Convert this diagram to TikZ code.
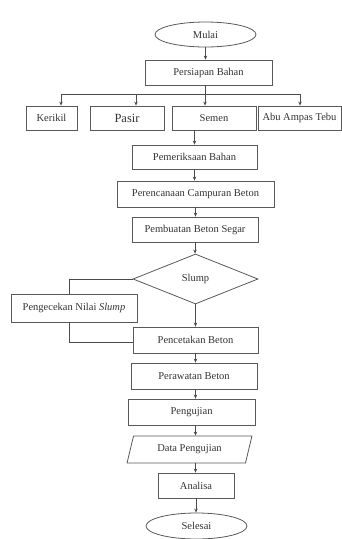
\documentclass[tikz,border=0pt]{standalone}
\usepackage{fontspec}
\setmainfont{Liberation Serif}
\usetikzlibrary{shapes.geometric,arrows.meta}
\tikzset{
  box/.style={draw=black!65, line width=0.8pt, rectangle, inner sep=0pt, text=black!80, font=\fontsize{10.5}{12}\selectfont},
  oval/.style={draw=black!65, line width=0.8pt, ellipse, inner sep=0pt, text=black!80, font=\fontsize{10.5}{12}\selectfont},
  dia/.style={draw=black!65, line width=0.8pt, diamond, aspect=2.5, inner sep=0pt, text=black!80, font=\fontsize{10.5}{12}\selectfont},
  para/.style={draw=black!65, line width=0.8pt, trapezium, trapezium left angle=68, trapezium right angle=112, trapezium stretches=true, inner sep=0pt, text=black!80, font=\fontsize{10.5}{12}\selectfont},
  conn/.style={draw=black!70, line width=0.7pt},
  arr/.style={conn, -{Stealth[length=4pt,width=3.5pt]}}
}
\begin{document}
\begin{tikzpicture}[x=1pt,y=-1pt]
\useasboundingbox (0,0) rectangle (342,539);
\node[oval, minimum width=101pt, minimum height=25pt] (mulai) at (205.5,34.5) {Mulai};
\node[box, minimum width=127pt, minimum height=25pt] (persiapan) at (208.5,72.5) {Persiapan Bahan};
\node[box, minimum width=51pt, minimum height=24pt] (kerikil) at (51.5,118) {Kerikil};
\node[box, minimum width=74pt, minimum height=24pt, font=\fontsize{12.5}{14}\selectfont] (pasir) at (127,118) {Pasir};
\node[box, minimum width=84pt, minimum height=24pt] (semen) at (214,118) {Semen};
\node[box, minimum width=83pt, minimum height=24pt] (abu) at (299.5,118) {Abu Ampas Tebu};
\node[box, minimum width=125pt, minimum height=24pt] (periksa) at (194.5,157) {Pemeriksaan Bahan};
\node[box, minimum width=157pt, minimum height=26pt] (rencana) at (195.5,194) {Perencanaan Campuran Beton};
\node[box, minimum width=126pt, minimum height=25pt] (buat) at (195,229.5) {Pembuatan Beton Segar};
\node[dia, minimum width=125pt, minimum height=50pt] (slump) at (195.5,279) {Slump};
\node[box, minimum width=126pt, minimum height=28pt] (cek) at (74,308) {Pengecekan Nilai \textit{Slump}};
\node[box, minimum width=125pt, minimum height=26pt] (cetak) at (195.5,340) {Pencetakan Beton};
\node[box, minimum width=126pt, minimum height=26pt] (rawat) at (194,376) {Perawatan Beton};
\node[box, minimum width=127pt, minimum height=26pt] (uji) at (191.5,412) {Pengujian};
\node[para, minimum width=125pt, minimum height=27pt] (data) at (189.5,449.5) {Data Pengujian};
\node[box, minimum width=76pt, minimum height=25pt] (analisa) at (196,485.5) {Analisa};
\node[oval, minimum width=101pt, minimum height=26pt] (selesai) at (196.5,526) {Selesai};

\coordinate (bc) at (205,94);
\coordinate (bl) at (61,94);
\coordinate (bp) at (136,94);
\coordinate (br) at (300,94);

\draw[arr] (mulai.south) -- (mulai.south |- persiapan.north);
\draw[conn] (persiapan.south -| bc) -- (bc);
\draw[conn] (bl) -- (br);
\draw[arr] (bl) -- (bl |- kerikil.north);
\draw[arr] (bp) -- (bp |- pasir.north);
\draw[arr] (bc) -- (bc |- semen.north);
\draw[arr] (br) -- (br |- abu.north);
\draw[arr] (periksa.north |- semen.south) -- (periksa.north);
\draw[arr] (periksa.south) -- (periksa.south |- rencana.north);
\draw[arr] (rencana.south) -- (rencana.south |- buat.north);
\draw[arr] (buat.south) -- (buat.south |- slump.north);
\draw[arr] (slump.south) -- (slump.south |- cetak.north);
\draw[conn] (slump.west) -| ([xshift=-5pt]cek.north);
\draw[conn] ([xshift=-5pt]cek.south) |- ([yshift=-2pt]cetak.west);
\draw[arr] (cetak.south) -- (cetak.south |- rawat.north);
\draw[arr] (cetak.south |- rawat.south) -- (cetak.south |- uji.north);
\draw[arr] (cetak.south |- uji.south) -- (cetak.south |- data.north);
\draw[arr] (cetak.south |- data.south) -- (cetak.south |- analisa.north);
\draw[arr] (analisa.south) -- (analisa.south |- selesai.north);
\end{tikzpicture}
\end{document}
